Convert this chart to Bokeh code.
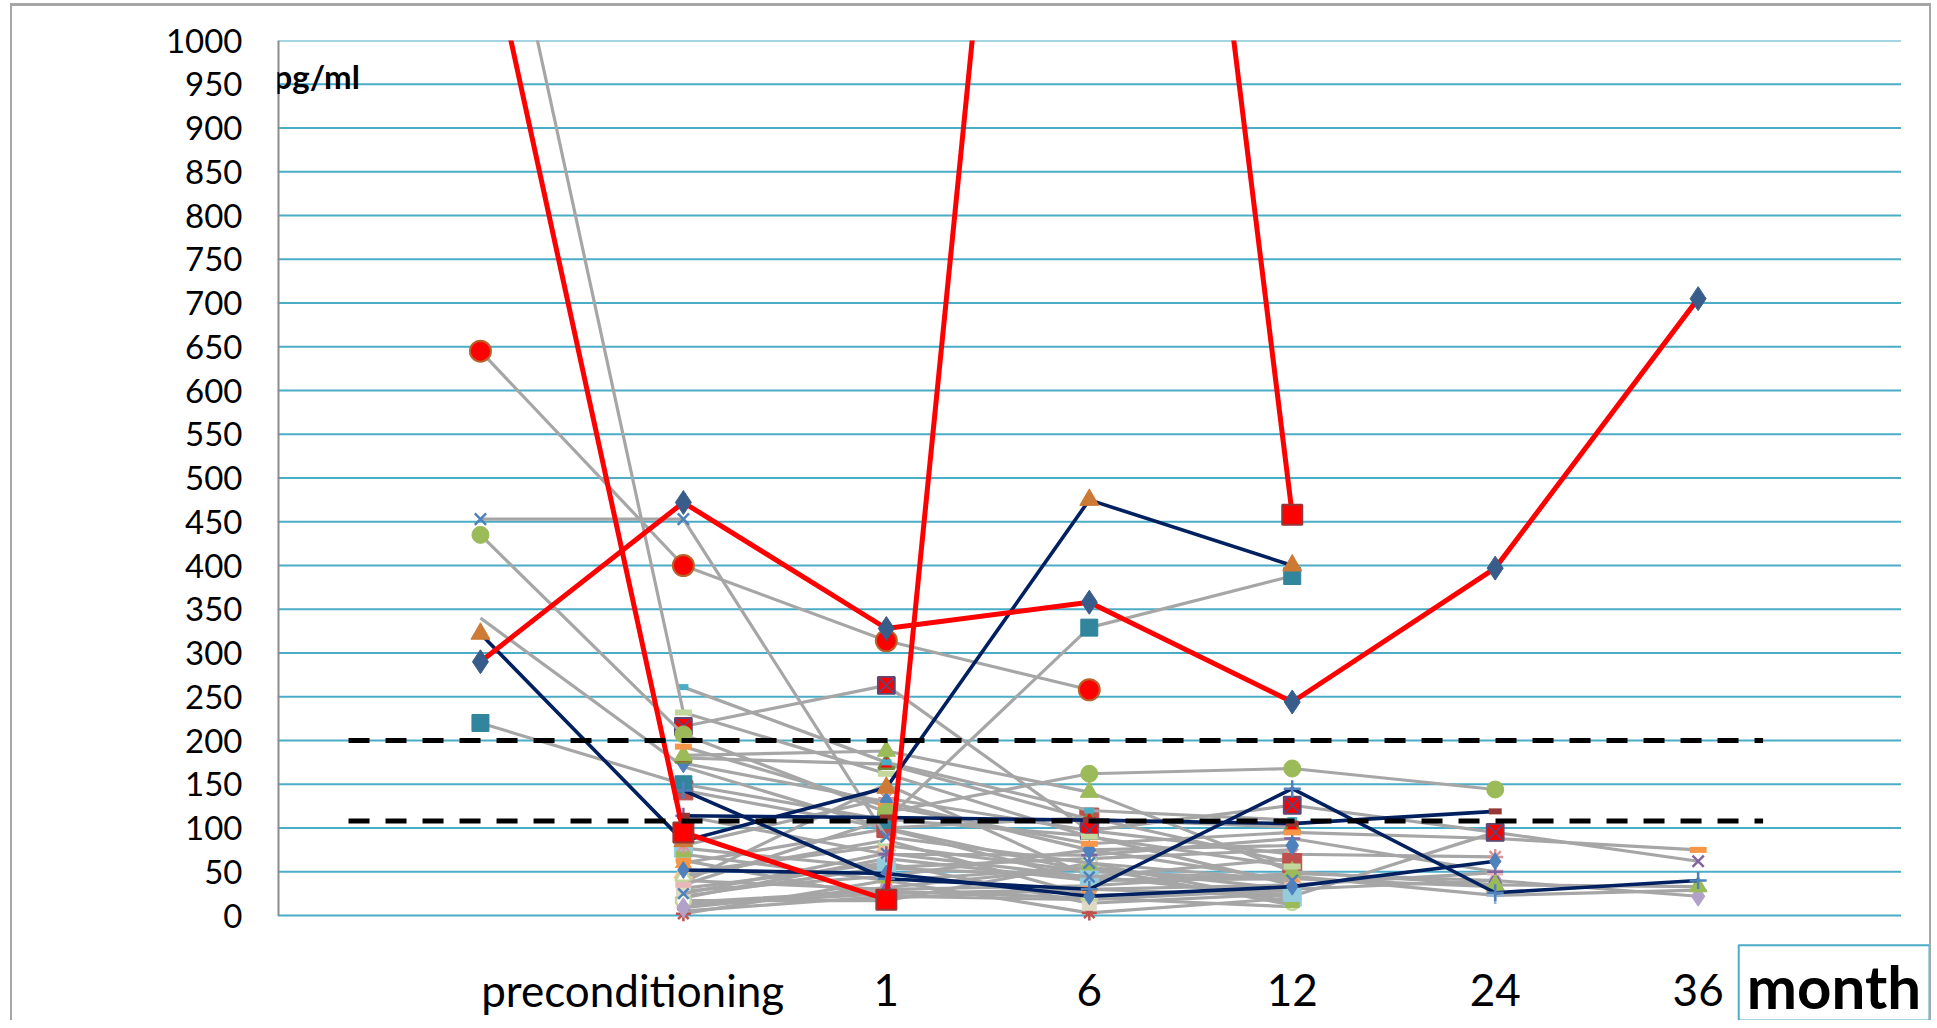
import math
from bokeh.plotting import figure
from bokeh.models import FixedTicker, Label, Range1d
from bokeh.embed import file_html
from bokeh.resources import INLINE
from bokeh.core.properties import value

# ---------------- data ----------------
col_x = [1, 2, 3, 4, 5, 6, 7]          # before, preconditioning, 1, 6, 12, 24, 36 months
x_tick_pos = [1.75, 3, 4, 5, 6, 7]
x_tick_labels = ["preconditioning", "1", "6", "12", "24", "36"]
x_label_level = -85
y_ticks = list(range(0, 1001, 50))
thresholds = [200, 108]
threshold_from = 0.35
threshold_to = 7.32
x_unit_label = "month"
y_unit_label = "pg/ml"

N = None
red_a = [1160, 95, 18, 2340, 458, N, N]
red_b = [290, 472, 328, 358, 244, 397, 705]
navy_a = [322, 85, 146, 475, 400, N, N]
navy_b = [N, 143, 42, 30, 145, 26, 40]
navy_c = [N, 114, 112, 109, 105, 119, N]
navy_d = [N, 52, 48, 22, 33, 62, N]
g01 = [645, 400, 314, 258, N, N, N]
g02 = [453, 453, 90, 60, 40, N, N]
g03 = [435, 207, 118, 162, 168, 144, N]
g04 = [340, 170, 100, 50, N, N, N]
g05 = [220, 150, 109, 329, 388, N, N]
g06 = [1300, 232, 162, 90, 56, N, N]
g07 = [N, 216, 263, 97, 126, 95, N]
g08 = [N, 261, 175, 120, 109, N, N]
g09 = [N, 193, 125, 82, 95, 88, 75]
g10 = [N, 183, 188, 141, 50, 35, 33]
g11 = [N, 180, 173, 110, 101, N, N]
g12 = [N, 174, 130, 75, 80, N, N]
g13 = [N, 143, 100, 112, 60, N, N]
g14 = [N, 114, 70, 69, 88, 50, N]
g15 = [N, 80, 134, 97, 70, 67, N]
g16 = [N, 77, 54, 45, 21, N, N]
g17 = [N, 63, 20, 30, 35, N, N]
g18 = [N, 60, 99, 40, 42, N, N]
g19 = [N, 45, 86, 23, 28, N, N]
g20 = [N, 49, 80, 50, 42, 33, N]
g21 = [N, 40, 30, 34, 48, 40, N]
g22 = [N, 31, 60, 14, 25, N, N]
g23 = [N, 9, 32, 55, 30, 40, 22]
g24 = [N, 2, 40, 3, 20, N, N]
g25 = [N, 25, 71, 44, 65, N, N]
g26 = [N, 17, 17, 60, 15, N, N]
g27 = [N, 35, 110, 91, 35, 49, N]
g28 = [N, 12, 25, 30, 22, 95, 62]
g29 = [N, 20, 65, 40, 45, 23, 29]
g30 = [N, 28, 45, 75, 40, N, N]
g31 = [N, 70, 40, 55, 12, N, N]
g32 = [N, 5, 22, 18, 30, N, N]
g33 = [N, 22, 55, 65, 75, N, N]
g34 = [N, 38, 150, 45, N, N, N]
g35 = [N, 15, 28, 20, 10, N, N]

GRAY = "#A6A6A6"
NAVY = "#002060"
RED = "#FF0000"
GL = 3.2

# (values, line colour, line width, marker, fill, marker line, size, marker line width)
series = [
    (g04, GRAY, GL, None, None, None, 0, 0),
    (g30, GRAY, GL, None, None, None, 0, 0),
    (g32, GRAY, GL, None, None, None, 0, 0),
    (g33, GRAY, GL, None, None, None, 0, 0),
    (g34, GRAY, GL, None, None, None, 0, 0),
    (g35, GRAY, GL, None, None, None, 0, 0),
    (g28, GRAY, GL, "x", None, "#8064A2", 16, 2.5),
    (g29, GRAY, GL, "cross", None, "#95B3D7", 17, 2.5),
    (g24, GRAY, GL, "asterisk", None, "#C0504D", 15, 2.5),
    (g26, GRAY, GL, "circle", "white", "#C3D69B", 15, 2.5),
    (g23, GRAY, GL, "diamond", "#B3A2C7", "#B3A2C7", 20, 1),
    (g22, GRAY, GL, "square", "#DDD9C3", "#DDD9C3", 14, 1),
    (g21, GRAY, GL, "triangle", "#8064A2", "#8064A2", 15, 1),
    (g20, GRAY, GL, "triangle", "#FAC090", "#FAC090", 19, 1),
    (g19, GRAY, GL, "triangle", "white", "#C3D69B", 16, 2.5),
    (g18, GRAY, GL, "triangle", "#F79646", "#F79646", 16, 1),
    (g17, GRAY, GL, "circle", "#F79646", "#F79646", 15, 1),
    (g16, GRAY, GL, "square", "#93CDDD", "#93CDDD", 18, 1),
    (g25, GRAY, GL, "x", None, "#4F81BD", 15, 2.5),
    (g27, GRAY, GL, "dash", None, "#E6B9B8", 16, 6),
    (g31, GRAY, GL, "dash", None, "#9BBB59", 15, 6),
    (g15, GRAY, GL, "asterisk", None, "#D99694", 16, 2.5),
    (g14, GRAY, GL, "cross", None, "#8064A2", 16, 2.5),
    (g13, GRAY, GL, "square", "#C0504D", "#C0504D", 19, 1),
    (g12, GRAY, GL, "diamond", "#4F81BD", "#4F81BD", 19, 1),
    (g11, GRAY, GL, "triangle", RED, "#71893F", 16, 2.5),
    (g10, GRAY, GL, "triangle", "#9BBB59", "#9BBB59", 18, 1),
    (g09, GRAY, GL, "dash", None, "#F79646", 17, 6),
    (g08, GRAY, GL, "dash", None, "#4BACC6", 10, 6),
    (g07, GRAY, GL, "square_x", RED, "#5C4776", 17, 1.8),
    (g06, GRAY, GL, "dash", None, "#C3D69B", 17, 6),
    (g05, GRAY, GL, "square", "#31859C", "#31859C", 17, 1),
    (g03, GRAY, GL, "circle", "#9BBB59", "#9BBB59", 17, 1),
    (g02, GRAY, GL, "x", None, "#4F81BD", 16, 2.5),
    (g01, GRAY, GL, "circle", RED, "#B7632A", 21, 2),
    (navy_d, NAVY, 3.6, "diamond", "#4F81BD", "#4F81BD", 17, 1),
    (navy_c, NAVY, 3.6, "dash", None, "#953735", 13, 6),
    (navy_b, NAVY, 3.6, "cross", None, "#4F81BD", 17, 2.5),
    (navy_a, NAVY, 3.6, "triangle", "#CD7A36", "#CD7A36", 19, 1),
    (red_a, RED, 5, "square", RED, "#953735", 20, 2),
    (red_b, RED, 5, "diamond", "#385D8A", "#385D8A", 24, 1),
]

# ---------------- figure ----------------
x_lo, x_hi, x_grid_end = 0, 8.14, 8
y_lo, y_hi = -120, 1000
p = figure(frame_width=1652, frame_height=980,
           min_border_left=265, min_border_right=0, min_border_top=34, min_border_bottom=0,
           x_range=Range1d(x_lo, x_hi), y_range=Range1d(y_lo, y_hi),
           output_backend="svg", toolbar_location=None)
p.styles = {"border-top": "3px solid #A6A6A6", "border-left": "2px solid #A6A6A6",
            "border-right": "2px solid #A6A6A6", "margin-left": "10px", "margin-top": "3px"}
p.outline_line_color = None
p.background_fill_color = "white"
p.border_fill_color = "white"
p.xgrid.visible = False
p.ygrid.visible = False
p.xaxis.visible = False

p.yaxis.ticker = FixedTicker(ticks=y_ticks)
p.yaxis.axis_line_color = None
p.yaxis.major_tick_line_color = None
p.yaxis.minor_tick_line_color = None
p.yaxis.major_label_text_font = "Lato"
p.yaxis.major_label_text_font_size = "33px"
p.yaxis.major_label_text_color = "black"
p.yaxis.major_label_standoff = 29

# horizontal gridlines and the value axis line
p.segment(x0=[x_lo] * len(y_ticks), x1=[x_grid_end] * len(y_ticks), y0=y_ticks, y1=y_ticks,
          line_color="#4BACC6", line_width=2)
p.segment(x0=[x_lo], x1=[x_lo], y0=[0], y1=[y_hi], line_color="#8C8C8C", line_width=4)


def clean(vals):
    return [float("nan") if v is None else v for v in vals]


for vals, lc, lw, mk, fc, mlc, size, mlw in series:
    ys = clean(vals)
    p.line(col_x, ys, line_color=lc, line_width=lw)
    if mk is not None:
        p.scatter(col_x, ys, marker=mk, size=size,
                  fill_color=fc if fc else None, line_color=mlc, line_width=mlw)

p.segment(x0=[threshold_from] * len(thresholds), x1=[threshold_to] * len(thresholds),
          y0=thresholds, y1=thresholds, line_color="black", line_width=5, line_dash="21 16")

# category labels
p.text(x=x_tick_pos, y=[x_label_level] * len(x_tick_pos), text=x_tick_labels,
       text_font=value("Lato"), text_font_size=value("44px"), text_color="black",
       text_align="center", text_baseline="middle")

# unit box "month"
p.quad(left=[7.2], right=[x_hi], top=[-34], bottom=[y_lo], fill_color="white",
       line_color="#4BACC6", line_width=2)
p.text(x=[7.24], y=[-80], text=[x_unit_label], text_font=value("Lato"),
       text_font_style="bold", text_font_size=value("60px"), text_color="black",
       text_align="left", text_baseline="middle")

p.add_layout(Label(x=0, y=959, x_offset=-4, text=y_unit_label, text_font="Lato",
                   text_font_style="bold", text_font_size="33px", text_color="black",
                   text_baseline="middle", text_align="left"))

open("out.html", "w").write(file_html(p, INLINE))
